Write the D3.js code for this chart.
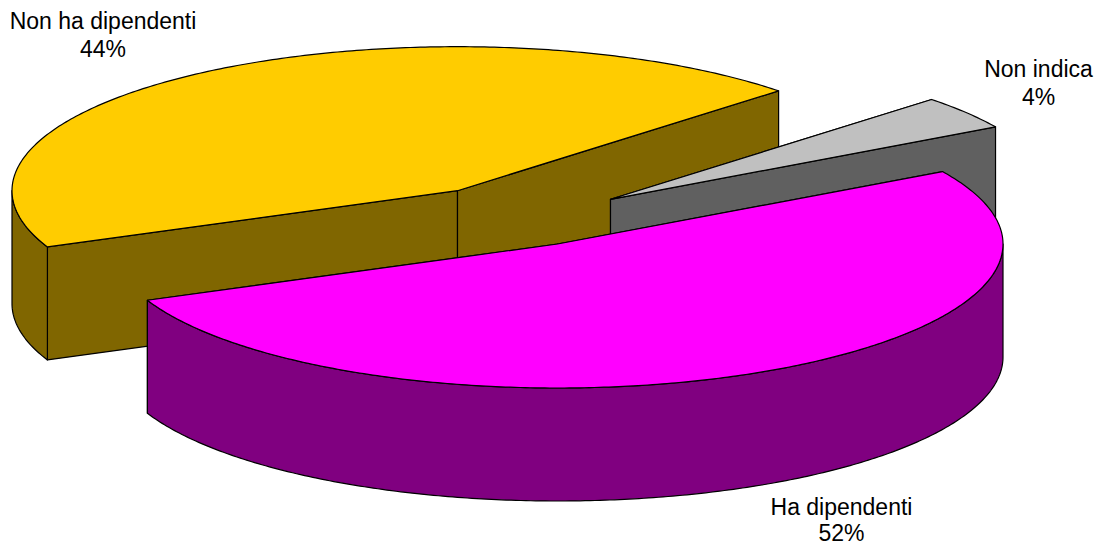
<!DOCTYPE html>
<html><head><meta charset="utf-8">
<script src="https://cdn.jsdelivr.net/npm/d3@7"></script>
<style>html,body{margin:0;padding:0;background:#fff}svg{display:block}text{font-family:"Liberation Sans",Arial,sans-serif;font-size:23px;fill:#000}</style>
</head><body><div id="chart"></div>
<script>
const categories = ["Ha dipendenti", "Non ha dipendenti", "Non indica"];
const values = [52, 44.2, 3.8];
const tickLabels = ["52%", "44%", "4%"];
const topColors = ["#FF00FF", "#FFCC00", "#C0C0C0"];
const sideColors = ["#800080", "#806600", "#606060"];

const W = 1096, H = 546, RX = 445.5, RY = 144, DEPTH = 113;
const centers = [[557.5, 244], [457.5, 190.7], [610.5, 199.3]];
const labelPos = [[841.5, 515], [103, 29], [1038.5, 77]];
const labelLead = [26, 28, 28];
const START = -30.2 * Math.PI / 180;

const svg = d3.select("#chart").append("svg").attr("width", W).attr("height", H);
const pie = d3.pie().value(d => d).sort(null).startAngle(START).endAngle(START + 2 * Math.PI);
const arcs = pie(values);
const line = d3.line();
const pt = (c, t, dz = 0) => [c[0] + RX * Math.cos(t), c[1] + RY * Math.sin(t) + dz];
const sample = (c, a, b, dz = 0) => {
  const n = Math.max(2, Math.ceil(Math.abs(b - a) * 90));
  return d3.range(n + 1).map(i => pt(c, a + (b - a) * i / n, dz));
};
const shape = (s, d, fill) => s.append("path").attr("d", d).attr("fill", fill)
  .attr("stroke", "#000").attr("stroke-width", 1.2).attr("stroke-linejoin", "round");

// paint order: yellow, then grey, then the front pink slice
[1, 2, 0].forEach(i => {
  const a = arcs[i], c = centers[i], g = svg.append("g").attr("class", "slice");
  const t0 = a.startAngle, t1 = a.endAngle;
  const down = p => [p[0], p[1] + DEPTH];
  [t0, t1].forEach(t => {
    const p = pt(c, t);
    shape(g, line([c, p, down(p), down(c)]) + "Z", sideColors[i]);
  });
  for (let k = -1; k <= 1; k++) {
    const lo = Math.max(t0, k * 2 * Math.PI), hi = Math.min(t1, k * 2 * Math.PI + Math.PI);
    if (hi > lo) {
      const top = sample(c, lo, hi), bot = sample(c, hi, lo, DEPTH);
      shape(g, line(top.concat(bot)) + "Z", sideColors[i]);
    }
  }
  shape(g, line([c].concat(sample(c, t0, t1))) + "Z", topColors[i]);
});

categories.forEach((name, i) => {
  const t = svg.append("text").attr("text-anchor", "middle");
  t.append("tspan").attr("x", labelPos[i][0]).attr("y", labelPos[i][1]).text(name);
  t.append("tspan").attr("x", labelPos[i][0]).attr("y", labelPos[i][1] + labelLead[i]).text(tickLabels[i]);
});
</script></body></html>
